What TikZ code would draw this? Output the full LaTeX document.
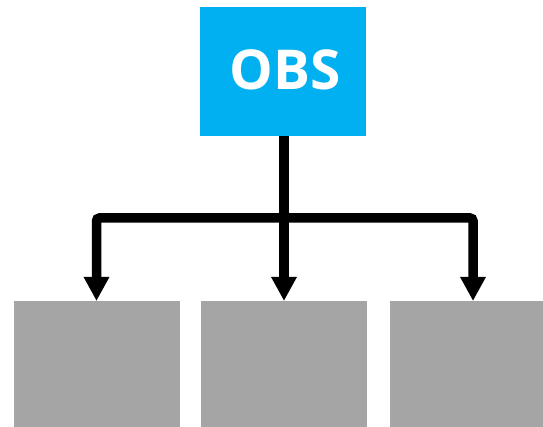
\documentclass[tikz,border=0pt]{standalone}
\usepackage{fontspec}
\setmainfont{Open Sans}
\usetikzlibrary{arrows.meta}
\definecolor{obsblue}{HTML}{00B0F0}
\definecolor{boxgray}{HTML}{A5A5A5}
\tikzset{
  topbox/.style={fill=obsblue, draw=none, minimum width=166pt, minimum height=129pt, inner sep=0pt},
  obstext/.style={text=white, inner sep=0pt, font=\bfseries\fontsize{55}{55}\selectfont},
  graybox/.style={fill=boxgray, draw=none, minimum width=166pt, minimum height=130pt, inner sep=0pt, anchor=north},
  conn/.style={line width=9.5pt, draw=black, rounded corners=3pt, -{Triangle[width=24pt,length=24pt]}}
}
\begin{document}
\begin{tikzpicture}[x=1pt,y=-1pt]
\useasboundingbox (0,0) rectangle (543,427);
\clip (0,0) rectangle (543,427);
\node[topbox] (obs) at (283,71.5) {};
\node[obstext, anchor=base] (obsl) at (285.5,90) {OBS};
\node[graybox] (b1) at (96.5,301) {};
\node[graybox] (b2) at (284,301) {};
\node[graybox] (b3) at (473,301) {};
\coordinate (j) at (284,218);
\draw[conn] (obs.south -| b2.north) -- (b2.north);
\draw[conn] (j) -| (b1.north);
\draw[conn] (j) -| (b3.north);
\end{tikzpicture}
\end{document}
